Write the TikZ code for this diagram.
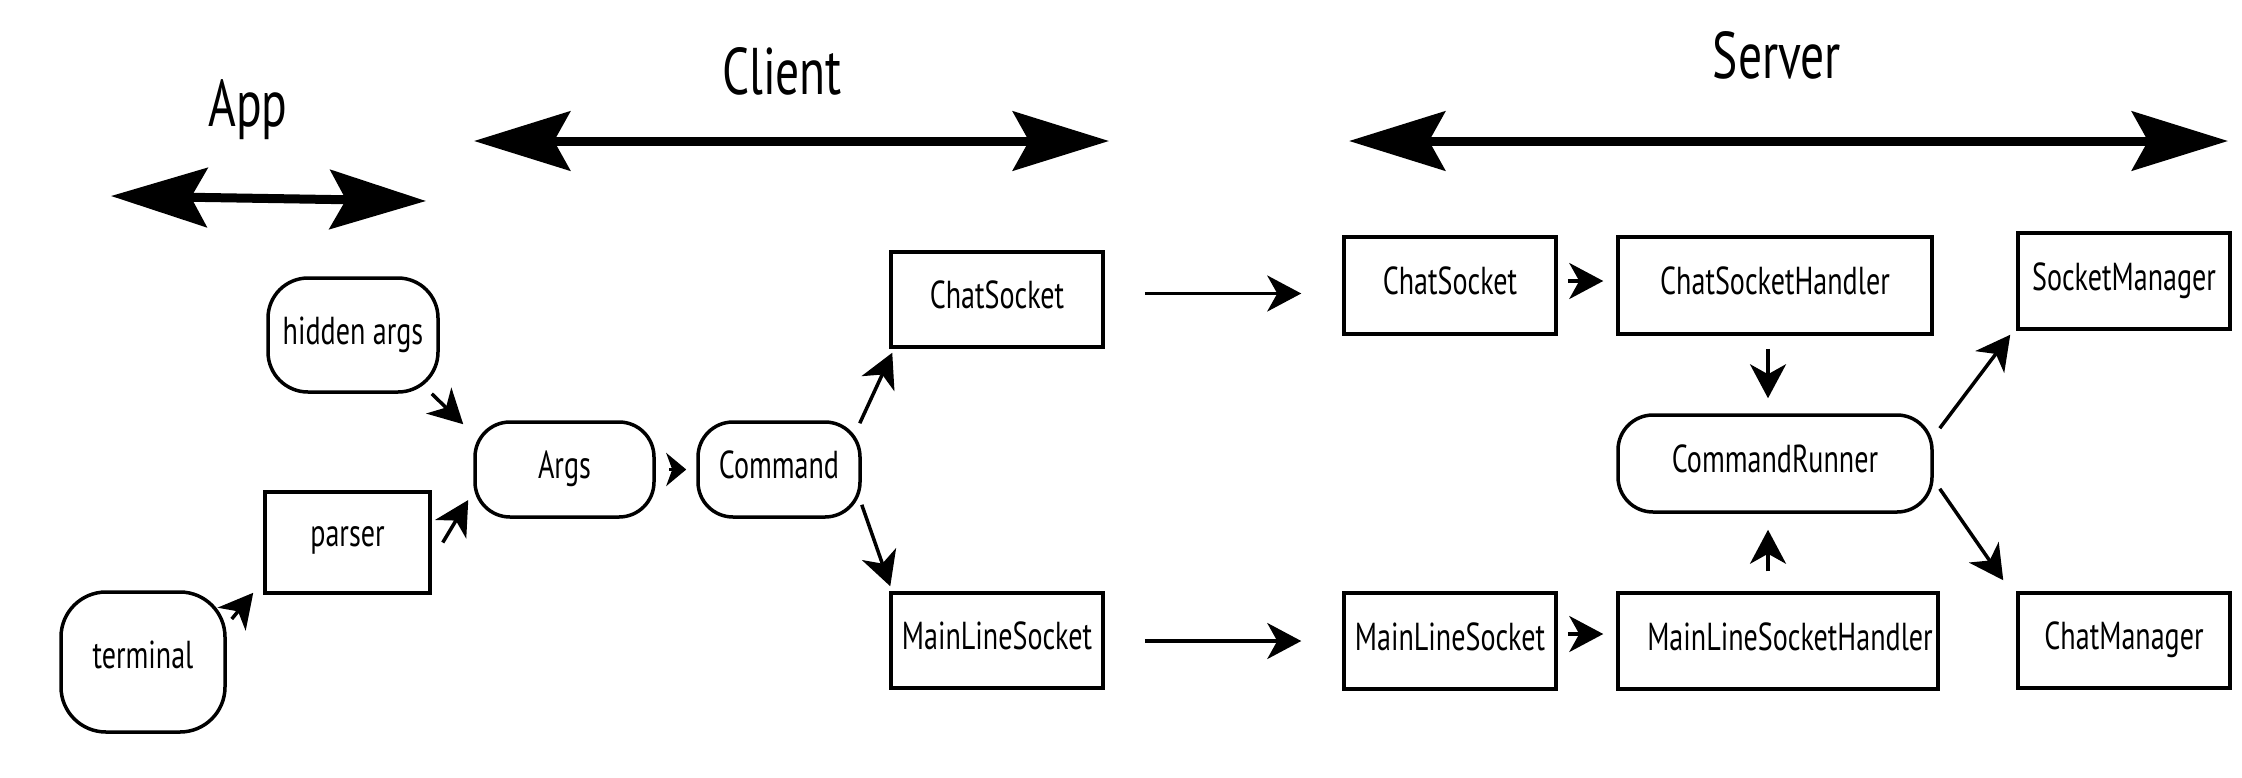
\documentclass[tikz,border=0pt]{standalone}
\usepackage{fontspec}
\setmainfont{PT Sans}[FakeStretch=0.72]
\usetikzlibrary{arrows.meta,calc}
\tikzset{
  box/.style={draw, line width=3.5pt, rectangle, inner sep=0pt, anchor=center,
    font=\fontsize{39}{47}\selectfont, text height=28pt, text depth=10pt},
  rbox/.style={box, rounded corners=#1},
  rbox/.default=35pt,
  title/.style={font=\fontsize{66}{79}\selectfont, inner sep=0pt, text height=46pt, text depth=0pt},
  arr/.style={line width=3.5pt, -{Stealth[length=34pt,width=36pt,inset=10pt]}},
  shortarr/.style={line width=3.5pt, -{Stealth[length=20pt,width=33pt,inset=6pt]}},
  big/.style={line width=9pt, {Stealth[length=96pt,width=59pt,inset=16pt]}-{Stealth[length=96pt,width=59pt,inset=16pt]}}
}
\begin{document}
\begin{tikzpicture}[x=1pt,y=-1pt]
\fill[white] (0,0) rectangle (2242,777);
\useasboundingbox (0,0) rectangle (2242,777);
% titles
\node[title] (tapp) at (248,103) {App};
\node[title] (tcli) at (782,71) {Client};
\node[title] (tsrv) at (1777,55) {Server};
% range arrows
\coordinate (appL) at (111,196);
\coordinate (appR) at (426,201);
\coordinate (cliL) at (474,141);
\coordinate (cliR) at (1109,141);
\coordinate (srvL) at (1349,141);
\coordinate (srvR) at (2228,141);
\draw[big] (appL) -- (appR);
\draw[big] (cliL) -- (cliR);
\draw[big] (srvL) -- (srvR);
% app nodes
\node[rbox=40pt, minimum width=170pt, minimum height=114pt] (hid) at (353,335) {hidden args};
\node[box, minimum width=165pt, minimum height=101pt] (parser) at (347.5,542.5) {\raisebox{5pt}{parser}};
\node[rbox=45pt, minimum width=164pt, minimum height=140pt] (term) at (143,662) {\raisebox{3pt}{terminal}};
% client nodes
\node[rbox, minimum width=179pt, minimum height=95pt] (args) at (564.5,469.5) {Args\hspace{14pt}};
\node[rbox, minimum width=162pt, minimum height=95pt] (cmd) at (779,469.5) {Command};
\node[box, minimum width=212pt, minimum height=95pt] (ccs) at (997,299.5) {ChatSocket};
\node[box, minimum width=212pt, minimum height=95pt] (cmls) at (997,640.5) {MainLineSocket};
% server nodes
\node[box, minimum width=212pt, minimum height=97pt] (scs) at (1450,285.5) {ChatSocket};
\node[box, minimum width=314pt, minimum height=97pt] (csh) at (1775,285.5) {ChatSocketHandler\hspace{36pt}};
\node[box, minimum width=212pt, minimum height=96pt] (sm) at (2124,281) {SocketManager};
\node[rbox, minimum width=314pt, minimum height=97pt] (cr) at (1775,463.5) {CommandRunner};
\node[box, minimum width=212pt, minimum height=96pt] (smls) at (1450,641) {MainLineSocket};
\node[box, minimum width=320pt, minimum height=96pt] (mlsh) at (1778,641) {\hspace{24pt}MainLineSocketHandler};
\node[box, minimum width=212pt, minimum height=95pt] (cm) at (2124,640.5) {ChatManager\hspace{16pt}};
% connectors
\draw[arr] ($(term.east)+(5,-43)$) -- ($(parser.south west)+(-10,-2)$);
\draw[arr] ($(parser.east)+(11,0)$) -- ($(args.west)+(-5,30.5)$);
\draw[arr] ($(hid.south east)+(-8,0)$) -- ($(args.north west)+(-10,4)$);
\draw[shortarr] ($(args.east)+(13,0)$) -- ($(cmd.west)+(-10,0)$);
\draw[arr] ($(cmd.north east)+(-2,3)$) -- ($(ccs.south west)+(3,4)$);
\draw[arr] ($(cmd.south east)+(0,-14)$) -- ($(cmls.north west)+(1,-5)$);
\draw[arr] ($(ccs.east)+(40,-6)$) -- ($(scs.west)+(-41,8)$);
\draw[arr] ($(cmls.east)+(40,0.5)$) -- ($(smls.west)+(-41,0)$);
\draw[arr] ($(scs.east)+(10,-4.5)$) -- ($(csh.west)+(-13,-4.5)$);
\draw[arr] ($(smls.east)+(10,-7)$) -- ($(mlsh.west)+(-13,-7)$);
\draw[arr] ($(csh.south)+(-7,13)$) -- ($(cr.north)+(-7,-15)$);
\draw[arr] ($(mlsh.north)+(-10,-20)$) -- ($(cr.south)+(-7,16)$);
\draw[arr] ($(cr.north east)+(6,15)$) -- ($(sm.south west)+(-6,4)$);
\draw[arr] ($(cr.south east)+(6,-25)$) -- ($(cm.north west)+(-13,-11)$);
\end{tikzpicture}
\end{document}
